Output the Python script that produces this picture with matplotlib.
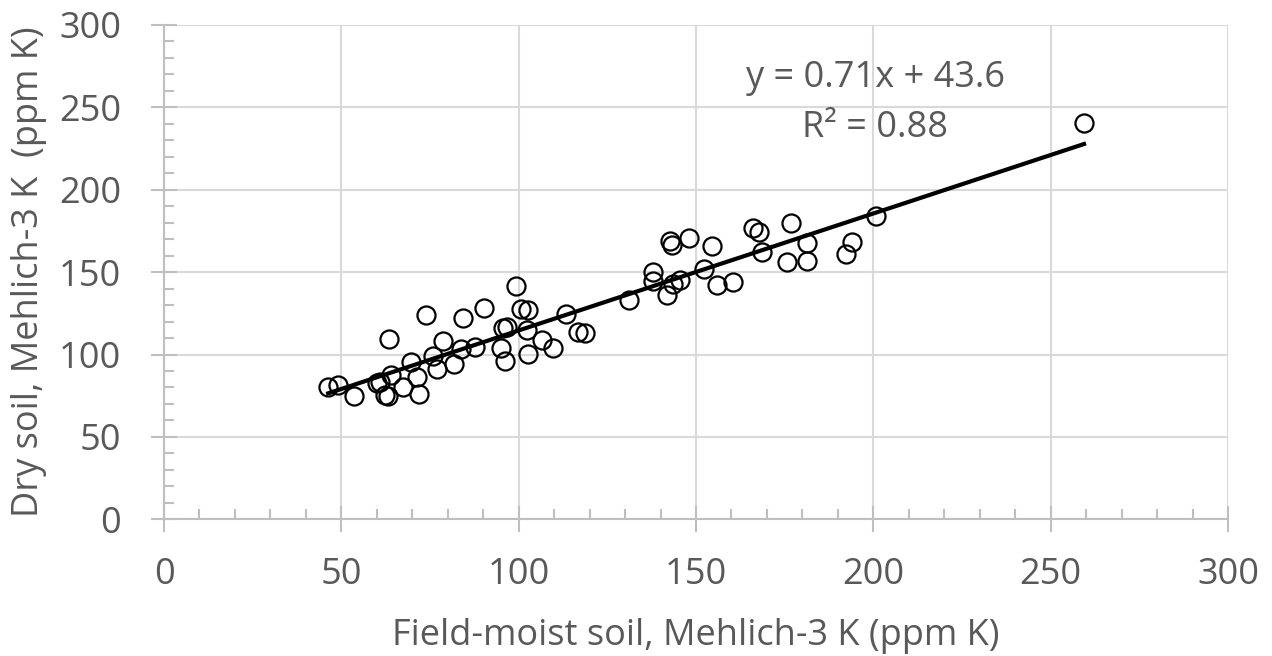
import matplotlib
matplotlib.use("Agg")
import matplotlib.pyplot as plt
import numpy as np
from matplotlib.ticker import MultipleLocator

field_moist = [46.3, 49.1, 53.7, 60.0, 60.9, 62.3, 63.2, 63.5, 63.9, 67.5,
               69.6, 71.2, 72.0, 73.9, 75.9, 76.9, 78.7, 81.8, 83.6, 84.4,
               87.7, 90.3, 95.0, 95.7, 96.6, 96.1, 99.2, 100.6, 102.7, 102.3,
               102.7, 106.5, 109.8, 113.3, 116.6, 118.7, 131.1, 137.9, 137.9, 141.7,
               142.7, 143.1, 143.5, 145.5, 148.0, 152.3, 154.4, 156.0, 160.3, 166.1,
               167.8, 168.7, 176.8, 175.6, 181.2, 181.2, 192.3, 194.0, 200.7, 259.4]
dry_soil = [80.1, 81.5, 75.0, 82.5, 83.5, 75.4, 75.1, 109.2, 87.6, 80.1,
            95.3, 86.5, 76.0, 124.0, 99.1, 91.0, 108.4, 94.1, 103.2, 122.3,
            104.4, 128.4, 103.8, 115.9, 116.9, 96.2, 141.7, 127.4, 127.0, 114.9,
            100.3, 108.8, 103.8, 124.6, 113.8, 112.9, 133.1, 150.2, 144.6, 136.1,
            169.1, 166.4, 142.7, 145.0, 170.9, 151.7, 165.8, 142.2, 144.2, 176.6,
            174.2, 162.0, 179.6, 155.9, 167.5, 156.7, 161.0, 168.1, 184.2, 240.5]
slope = 0.71
intercept = 43.6
r2 = 0.88
x_ticks = [0, 50, 100, 150, 200, 250, 300]
y_ticks = [0, 50, 100, 150, 200, 250, 300]

plt.rcParams['font.family'] = ['Open Sans', 'DejaVu Sans']
W, H = 1272, 656
fig = plt.figure(figsize=(W / 100, H / 100), dpi=100)
ax = fig.add_axes([164 / W, 1 - 519.3 / H, (1228 - 164) / W, (519.3 - 25) / H])

grid_c = '#d9d9d9'
axis_c = '#bfbfbf'
text_c = '#595959'
fs = 26

ax.set_xlim(0, 300)
ax.set_ylim(0, 300)
ax.set_xticks(x_ticks)
ax.set_yticks(y_ticks)
ax.xaxis.set_minor_locator(MultipleLocator(10))
ax.yaxis.set_minor_locator(MultipleLocator(10))
ax.grid(True, which='major', color=grid_c, linewidth=1.5, zorder=0)
ax.set_axisbelow(True)
for s in ['top', 'right']:
    ax.spines[s].set_visible(False)
for s in ['left', 'bottom']:
    ax.spines[s].set_color(axis_c)
    ax.spines[s].set_linewidth(1.5)
ax.tick_params(which='major', direction='inout', length=19, width=1.5, color=axis_c,
               labelsize=fs, labelcolor=text_c)
ax.tick_params(which='minor', direction='in', length=7, width=1.5, color=axis_c)
ax.tick_params(axis='x', which='major', pad=18)
ax.tick_params(axis='y', which='major', pad=21.5)

ax.plot(field_moist, dry_soil, linestyle='none', marker='o', markersize=13,
        markerfacecolor='none', markeredgecolor='black', markeredgewidth=1.6,
        zorder=3, clip_on=False)
xl = np.array([min(field_moist), max(field_moist)])
ax.plot(xl, slope * xl + intercept, color='black', linewidth=3, zorder=4)

ax.text(200.5, 262.3, f"y = {slope:.2f}x + {intercept:.1f}", fontsize=fs, color=text_c,
        ha='center', va='baseline')
ax.text(200.5, 232.0, f"R² = {r2:.2f}", fontsize=fs, color=text_c,
        ha='center', va='baseline')

fig.text(696 / W, 1 - 645 / H, "Field-moist soil, Mehlich-3 K (ppm K)", fontsize=fs,
         color=text_c, ha='center', va='baseline')
fig.text(29 / W, 1 - 272 / H, "Dry soil, Mehlich-3 K  (ppm K)", fontsize=fs,
         color=text_c, ha='center', va='center', rotation=90)

fig.savefig("out.png", dpi=100)
